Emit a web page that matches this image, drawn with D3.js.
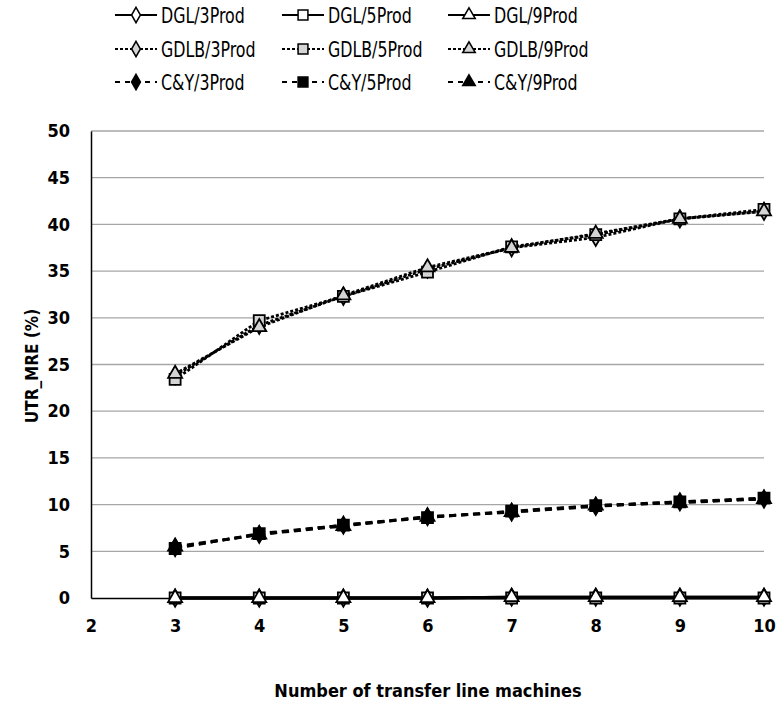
<!DOCTYPE html>
<html>
<head>
<meta charset="utf-8">
<script src="https://cdn.jsdelivr.net/npm/d3@7"></script>
<style>
  body { margin: 0; background: #fff; }
  text { font-family: "DejaVu Sans Condensed", "Liberation Sans", sans-serif; }
</style>
</head>
<body>
<div class="chart"></div>
<script>
const machines = [3, 4, 5, 6, 7, 8, 9, 10]

const dgl3 = [0, 0, 0, 0, 0.1, 0.1, 0.1, 0.1]
const dgl5 = [0, 0, 0, 0, 0, 0, 0, 0]
const dgl9 = [0, 0, 0, 0, 0.1, 0.1, 0.1, 0.1]
const gdlb3 = [23.8, 29.2, 32.3, 35.2, 37.5, 38.6, 40.6, 41.4]
const gdlb5 = [23.4, 29.7, 32.3, 34.9, 37.6, 38.9, 40.6, 41.6]
const gdlb9 = [24.0, 29.0, 32.4, 35.4, 37.5, 39.0, 40.6, 41.4]
const cy3 = [5.4, 6.8, 7.8, 8.7, 9.2, 9.8, 10.3, 10.6]
const cy5 = [5.3, 6.9, 7.8, 8.6, 9.3, 9.9, 10.3, 10.7]
const cy9 = [5.5, 6.8, 7.7, 8.7, 9.2, 9.9, 10.2, 10.6]

const xTicks = [2, 3, 4, 5, 6, 7, 8, 9, 10]
const yTicks = [0, 5, 10, 15, 20, 25, 30, 35, 40, 45, 50]

const series = [
  {name: 'DGL/3Prod', values: dgl3, shape: 'diamond', fill: '#fff', dash: null},
  {name: 'DGL/5Prod', values: dgl5, shape: 'square', fill: '#fff', dash: null},
  {name: 'DGL/9Prod', values: dgl9, shape: 'triangle', fill: '#fff', dash: null},
  {name: 'GDLB/3Prod', values: gdlb3, shape: 'diamond', fill: '#d4d4d4', dash: '3,2'},
  {name: 'GDLB/5Prod', values: gdlb5, shape: 'square', fill: '#d4d4d4', dash: '3,2'},
  {name: 'GDLB/9Prod', values: gdlb9, shape: 'triangle', fill: '#d4d4d4', dash: '3,2'},
  {name: 'C&Y/3Prod', values: cy3, shape: 'diamond', fill: '#000', dash: '7,5'},
  {name: 'C&Y/5Prod', values: cy5, shape: 'square', fill: '#000', dash: '7,5'},
  {name: 'C&Y/9Prod', values: cy9, shape: 'triangle', fill: '#000', dash: '7,5'}
]

const W = 777, H = 705
const margin = ({top: 131, right: 13, bottom: 107, left: 91})
const width = W - margin.left - margin.right
const height = H - margin.top - margin.bottom

const svg0 = d3.select('.chart').append('svg')
    .attr('width', W)
    .attr('height', H)
const svg = svg0.append('g')
    .attr('transform', `translate(${margin.left},${margin.top})`)

const xScale = d3.scaleLinear().domain([2, 10]).range([0, width])
const yScale = d3.scaleLinear().domain([0, 50]).range([height, 0])

const symbolOf = {diamond: d3.symbolDiamond, square: d3.symbolSquare, triangle: d3.symbolTriangle}
const sizeOf = {diamond: 85, square: 121, triangle: 85}

// gridlines
svg.append('g')
    .selectAll('line')
    .data(yTicks.filter(d => d > 0))
    .join('line')
    .attr('x1', 0)
    .attr('x2', width)
    .attr('y1', d => yScale(d))
    .attr('y2', d => yScale(d))
    .attr('stroke', '#a6a6a6')
    .attr('stroke-width', 1.3)

const yAxis = d3.axisLeft(yScale).tickValues(yTicks).tickSize(0).tickPadding(21)
const xAxis = d3.axisBottom(xScale).tickValues(xTicks).tickSize(0).tickPadding(21)

const gy = svg.append('g').attr('class', 'axis y-axis').call(yAxis)
const gx = svg.append('g').attr('class', 'axis x-axis')
    .attr('transform', `translate(0, ${height})`).call(xAxis)
gy.select('.domain').attr('stroke', '#000').attr('stroke-width', 1.5)
gx.select('.domain').attr('stroke', '#000').attr('stroke-width', 1.5)
svg.selectAll('.axis text')
    .style('font-size', '18px')
    .style('font-weight', 'bold')
    .attr('fill', '#000')

const line = d3.line()
    .x((d, i) => xScale(machines[i]))
    .y(d => yScale(d))

// draw DGL last so it sits on top of the axis
const order = [3, 4, 5, 6, 7, 8, 0, 1, 2]
order.forEach(k => {
  const s = series[k]
  svg.append('path')
      .datum(s.values)
      .attr('d', line)
      .attr('fill', 'none')
      .attr('stroke', '#000')
      .attr('stroke-width', 2.8)
      .attr('stroke-dasharray', s.dash)
})
order.forEach(k => {
  const s = series[k]
  svg.append('g')
      .selectAll('path')
      .data(s.values)
      .join('path')
      .attr('transform', (d, i) => `translate(${xScale(machines[i])},${yScale(d)})`)
      .attr('d', d3.symbol(symbolOf[s.shape], sizeOf[s.shape]))
      .attr('fill', s.fill)
      .attr('stroke', '#000')
      .attr('stroke-width', 1.8)
})

// axis titles
svg0.append('text')
    .attr('x', 428)
    .attr('y', 697)
    .attr('text-anchor', 'middle')
    .style('font-size', '18px')
    .style('font-weight', 'bold')
    .text('Number of transfer line machines')

svg0.append('text')
    .attr('transform', `translate(38, 366) rotate(-90)`)
    .attr('text-anchor', 'middle')
    .style('font-size', '17px')
    .style('font-weight', 'bold')
    .text('UTR_MRE (%)')

// legend
const colX = [115, 282, 448]
const rowY = [15, 49, 82]
series.forEach((s, k) => {
  const col = k % 3, row = Math.floor(k / 3)
  const g = svg0.append('g').attr('transform', `translate(${colX[col]},${rowY[row]})`)
  g.append('line')
      .attr('x1', 0).attr('x2', 42)
      .attr('stroke', '#000')
      .attr('stroke-width', 1.8)
      .attr('stroke-dasharray', s.dash ? (row === 1 ? '3,2' : '5,5') : null)
  g.append('path')
      .attr('transform', 'translate(21,0)')
      .attr('d', d3.symbol(symbolOf[s.shape], sizeOf[s.shape] * 0.8))
      .attr('fill', s.fill)
      .attr('stroke', '#000')
      .attr('stroke-width', 1.5)
  g.append('text')
      .attr('transform', 'translate(46,8) scale(0.8,1)')
      .style('font-size', '22px')
      .text(s.name)
})
</script>
</body>
</html>
